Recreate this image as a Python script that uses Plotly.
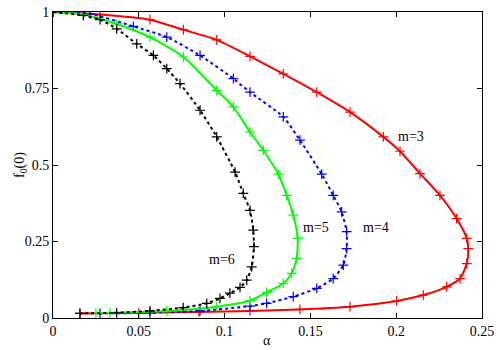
import plotly.graph_objects as go

# m = 3 (red)
alpha_m3 = [0, 0.0274, 0.0565, 0.076, 0.0954, 0.1148, 0.1342, 0.1537, 0.1731, 0.1925, 0.2022, 0.2139,
            0.2255, 0.2352, 0.2411, 0.242, 0.2411, 0.2372, 0.2294, 0.2158, 0.2003, 0.1731, 0.1439,
            0.1148, 0.085, 0.05, 0.0157]
f_m3 = [1, 0.992, 0.975, 0.942, 0.909, 0.855, 0.798, 0.738, 0.673, 0.592, 0.545, 0.472,
        0.401, 0.325, 0.260, 0.227, 0.178, 0.129, 0.102, 0.075, 0.0555, 0.037, 0.028,
        0.023, 0.020, 0.017, 0.015]

# m = 4 (blue)
alpha_m4 = [0, 0.0216, 0.0468, 0.0663, 0.0857, 0.1051, 0.1148, 0.1342, 0.1439, 0.1566, 0.1633, 0.1682,
            0.1711, 0.1711, 0.1692, 0.1633, 0.1537, 0.14, 0.1245, 0.1148, 0.0857, 0.0565, 0.0274]
f_m4 = [1, 0.994, 0.953, 0.918, 0.858, 0.782, 0.738, 0.657, 0.581, 0.470, 0.401, 0.347,
        0.282, 0.227, 0.173, 0.129, 0.097, 0.070, 0.048, 0.039, 0.023, 0.017, 0.015]

# m = 5 (green)
alpha_m5 = [0, 0.0177, 0.0371, 0.0565, 0.076, 0.0954, 0.1051, 0.1148, 0.1226, 0.1313, 0.1362, 0.14,
            0.1426, 0.142, 0.1391, 0.1342, 0.1245, 0.1148, 0.0954, 0.0663, 0.0332, 0.025]
f_m5 = [1, 0.992, 0.961, 0.918, 0.853, 0.744, 0.690, 0.608, 0.548, 0.470, 0.401, 0.336,
        0.260, 0.195, 0.146, 0.113, 0.084, 0.057, 0.037, 0.023, 0.017, 0.016]

# m = 6 (black)
alpha_m6 = [0, 0.0177, 0.0274, 0.0371, 0.0488, 0.0585, 0.0663, 0.074, 0.0857, 0.0954, 0.1061, 0.1109,
            0.1148, 0.1167, 0.1171, 0.1158, 0.1129, 0.109, 0.1031, 0.0973, 0.0896, 0.0759, 0.0565,
            0.0371, 0.0157]
f_m6 = [1, 0.989, 0.975, 0.945, 0.896, 0.858, 0.815, 0.766, 0.679, 0.592, 0.477, 0.407,
        0.352, 0.287, 0.233, 0.167, 0.124, 0.100, 0.081, 0.064, 0.048, 0.034, 0.023,
        0.017, 0.015]

x_ticks = [0, 0.05, 0.1, 0.15, 0.2, 0.25]
x_tick_labels = ["0", "0.05", "0.1", "0.15", "0.2", "0.25"]
y_ticks = [0, 0.25, 0.5, 0.75, 1]
y_tick_labels = ["0", "0.25", "0.5", "0.75", "1"]

series = [
    (alpha_m3, f_m3, "#ff0000", "solid", "m=3"),
    (alpha_m4, f_m4, "#0000ff", "dot", "m=4"),
    (alpha_m5, f_m5, "#00ff00", "solid", "m=5"),
    (alpha_m6, f_m6, "#000000", "dot", "m=6"),
]

W, H = 500, 350
ML, MR, MT, MB = 53, 18, 12, 32

fig = go.Figure()
for xs, ys, col, dash, name in series:
    fig.add_trace(go.Scatter(
        x=xs, y=ys, mode="lines+markers", name=name,
        line=dict(color=col, width=2, dash=dash, shape="spline", smoothing=0.6),
        marker=dict(symbol="cross-thin", size=7, line=dict(color=col, width=1.2), color=col),
        showlegend=False,
    ))

font = dict(family="Liberation Serif, Times New Roman, serif", size=14, color="black")


def paper_xy(px, py):
    return (px - ML) / (W - ML - MR), (H - MB - py) / (H - MT - MB)


fx, fy = paper_xy(20, 165)
ax_, ay_ = paper_xy(267, 340)

fig.update_layout(
    width=W, height=H,
    margin=dict(l=ML, r=MR, t=MT, b=MB, autoexpand=False),
    paper_bgcolor="white", plot_bgcolor="white",
    font=font,
    xaxis=dict(range=[0, 0.25], tickvals=x_ticks, ticktext=x_tick_labels,
               ticks="inside", ticklen=5, tickcolor="black", mirror="ticks",
               showline=True, linecolor="black", linewidth=1, showgrid=False, zeroline=False),
    yaxis=dict(range=[0, 1], tickvals=y_ticks, ticktext=y_tick_labels,
               ticks="inside", ticklen=5, tickcolor="black", mirror="ticks",
               showline=True, linecolor="black", linewidth=1, showgrid=False, zeroline=False),
    annotations=[
        dict(x=0.2086, y=0.594, xref="x", yref="y", text="m=3", showarrow=False, font=font),
        dict(x=0.188, y=0.297, xref="x", yref="y", text="m=4", showarrow=False, font=font),
        dict(x=0.153, y=0.297, xref="x", yref="y", text="m=5", showarrow=False, font=font),
        dict(x=0.0983, y=0.192, xref="x", yref="y", text="m=6", showarrow=False, font=font),
        dict(x=fx, y=fy, xref="paper", yref="paper", xanchor="center", yanchor="middle",
             text="f<sub>0</sub>(0)", textangle=-90, showarrow=False, font=font),
        dict(x=ax_, y=ay_, xref="paper", yref="paper", xanchor="center", yanchor="middle",
             text="α", showarrow=False, font=font),
    ],
)

fig.write_html("out.html", config={"displayModeBar": False},
               post_script="document.body.style.margin='0';document.body.style.overflow='hidden';")
